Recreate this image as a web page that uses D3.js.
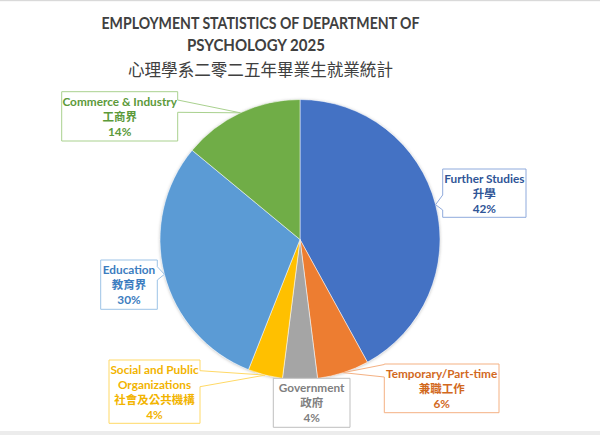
<!DOCTYPE html>
<html>
<head>
<meta charset="utf-8">
<script src="https://cdn.jsdelivr.net/npm/d3@7"></script>
<style>
  html, body { margin: 0; padding: 0; background: #ffffff; }
  svg { display: block; }
</style>
</head>
<body>
<svg id="chart" width="600" height="435"></svg>
<script>
// ---------------- data ----------------
const titleLines = ["EMPLOYMENT STATISTICS OF DEPARTMENT OF", "PSYCHOLOGY 2025"];
const titleZh = "心理學系二零二五年畢業生就業統計";
const categories = ["Further Studies", "Temporary/Part-time", "Government", "Social and Public Organizations", "Education", "Commerce & Industry"];
const categoryLines = [["Further Studies"], ["Temporary/Part-time"], ["Government"], ["Social and Public", "Organizations"], ["Education"], ["Commerce & Industry"]];
const categoriesZh = ["升學", "兼職工作", "政府", "社會及公共機構", "教育界", "工商界"];
const values = [42, 6, 4, 4, 30, 14];

// ---------------- styles / layout ----------------
const sliceColors = ["#4472C4", "#ED7D31", "#A5A5A5", "#FFC000", "#5B9BD5", "#70AD47"];
const textColors  = ["#2F5597", "#D2691E", "#7F7F7F", "#F2B400", "#3C7DC0", "#5C9A3A"];
const borderColors = ["#8FAADC", "#F4B183", "#BFBFBF", "#FFD966", "#9DC3E6", "#A9D18E"];
// callout boxes: [x0, x1, y0, y1], pointer side, pointer base [y0, y1]
const boxes = [
  {b: [442.7, 526, 169, 217.3], side: "left",  w: [195, 210]},
  {b: [384.3, 499, 364, 412.7], side: "left",  w: [364.5, 377]},
  {b: [273.3, 350, 378.3, 427.3], side: null,  w: null},
  {b: [109, 200, 360, 423.3],   side: "right", w: [370.7, 386.7]},
  {b: [100.7, 157.3, 260, 309.3], side: "right", w: [266.7, 280]},
  {b: [61.7, 177.7, 91.7, 141], side: "right", w: [100, 112.3]}
];

const svg = d3.select("#chart");
const W = 600, H = 435;
const cx = 300, cy = 239.5, R = 140;

// frame lines
svg.append("rect").attr("x", 0).attr("y", 0).attr("width", W).attr("height", 1.2).attr("fill", "#d9d9d9");
svg.append("rect").attr("x", 0).attr("y", 431).attr("width", W).attr("height", 4).attr("fill", "#ececec");

// title
const titleFont = "Lato, 'Open Sans', sans-serif";
const tcx = 260.5;
svg.append("text").attr("x", tcx).attr("y", 29).attr("text-anchor", "middle")
  .attr("font-family", titleFont).attr("font-weight", "bold").attr("font-size", 17)
  .attr("fill", "#404040").attr("textLength", 318).attr("lengthAdjust", "spacingAndGlyphs")
  .text(titleLines[0]);
svg.append("text").attr("x", tcx - 4.5).attr("y", 50.7).attr("text-anchor", "middle")
  .attr("font-family", titleFont).attr("font-weight", "bold").attr("font-size", 17)
  .attr("fill", "#404040").attr("textLength", 138).attr("lengthAdjust", "spacingAndGlyphs")
  .text(titleLines[1]);
svg.append("text").attr("x", tcx).attr("y", 75.5).attr("text-anchor", "middle")
  .attr("font-family", "'Noto Sans CJK TC', 'Noto Sans CJK SC', sans-serif").attr("font-size", 17)
  .attr("fill", "#404040").attr("textLength", 265).attr("lengthAdjust", "spacingAndGlyphs")
  .text(titleZh);

// shadow
const defs = svg.append("defs");
const f = defs.append("filter").attr("id", "sh").attr("x", "-10%").attr("y", "-10%").attr("width", "120%").attr("height", "120%");
f.append("feDropShadow").attr("dx", 0).attr("dy", 0.5).attr("stdDeviation", 1.6)
  .attr("flood-color", "#000").attr("flood-opacity", 0.28);

// pie
const pie = d3.pie().sort(null).value(d => d)(values);
const arc = d3.arc().innerRadius(0).outerRadius(R);
const g = svg.append("g").attr("transform", `translate(${cx},${cy})`);
g.append("circle").attr("r", R).attr("fill", "#fff").attr("filter", "url(#sh)");
g.selectAll("path.slice").data(pie).join("path")
  .attr("class", "slice")
  .attr("d", arc)
  .attr("fill", (d, i) => sliceColors[i])
  .attr("stroke", "#fff").attr("stroke-width", 0.5);

// callouts
const total = d3.sum(values);
const pct = d3.format(".0%");
const labelFont = "Lato, 'Open Sans', sans-serif";
const cjkFont = "'Noto Sans CJK TC', 'Noto Sans CJK SC', sans-serif";

pie.forEach((d, i) => {
  const bx = boxes[i];
  const [x0, x1, y0, y1] = bx.b;
  const mid = (d.startAngle + d.endAngle) / 2;
  const tip = [cx + R * Math.sin(mid), cy - R * Math.cos(mid)];
  let p;
  if (bx.side === "left") {
    p = `M${x0},${y0} L${x1},${y0} L${x1},${y1} L${x0},${y1} L${x0},${bx.w[1]} L${tip[0]},${tip[1]} L${x0},${bx.w[0]} Z`;
  } else if (bx.side === "right") {
    p = `M${x0},${y0} L${x1},${y0} L${x1},${bx.w[0]} L${tip[0]},${tip[1]} L${x1},${bx.w[1]} L${x1},${y1} L${x0},${y1} Z`;
  } else {
    p = `M${x0},${y0} L${x1},${y0} L${x1},${y1} L${x0},${y1} Z`;
  }
  svg.append("path").attr("d", p).attr("fill", "#fff")
    .attr("stroke", borderColors[i]).attr("stroke-width", 1);

  const tx = (x0 + x1) / 2;
  const lines = categoryLines[i].map(t => ({t, cjk: false}))
    .concat([{t: categoriesZh[i], cjk: true}, {t: pct(values[i] / total), cjk: false}]);
  lines.forEach((ln, k) => {
    svg.append("text")
      .attr("x", tx).attr("y", y0 + 14 + 15 * k)
      .attr("text-anchor", "middle")
      .attr("font-family", ln.cjk ? cjkFont : labelFont)
      .attr("font-weight", ln.cjk ? 700 : "bold")
      .attr("font-size", ln.cjk ? 11.5 : 11.8)
      .attr("fill", textColors[i])
      .text(ln.t);
  });
});
</script>
</body>
</html>
